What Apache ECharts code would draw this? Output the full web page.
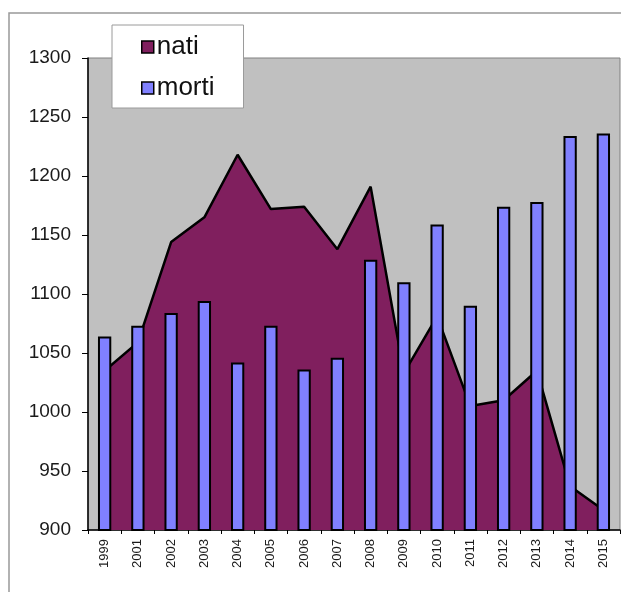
<!DOCTYPE html>
<html>
<head>
<meta charset="utf-8">
<script src="https://cdn.jsdelivr.net/npm/echarts@6/dist/echarts.min.js"></script>
<style>
html,body{margin:0;padding:0;background:#fff;}
#c{width:621px;height:592px;}
</style>
</head>
<body>
<div id="c"></div>
<script>
const categories = ['1999','2001','2002','2003','2004','2005','2006','2007','2008','2009','2010','2011','2012','2013','2014','2015'];
const nati  = [1035,1059,1144,1165,1218,1172,1174,1138,1191,1033,1081,1005,1010,1035,937,917];
const morti = [1064,1073,1084,1094,1042,1073,1036,1046,1129,1110,1159,1090,1174,1178,1234,1236];
const yTicks = {min: 900, max: 1300, interval: 50};

const FONT = '"Liberation Sans", Arial, sans-serif';
const chart = echarts.init(document.getElementById('c'), null, {renderer: 'canvas'});
chart.setOption({
  backgroundColor: '#ffffff',
  animation: false,
  graphic: [{
    type: 'rect', z: -10, silent: true,
    shape: {x: 9, y: 13, width: 800, height: 800},
    style: {fill: 'none', stroke: '#999999', lineWidth: 1.5}
  }],
  grid: {
    left: 88, right: 1, top: 58, bottom: 62,
    show: true, backgroundColor: '#c0c0c0', borderColor: '#808080', borderWidth: 1
  },
  legend: {
    orient: 'vertical',
    left: 112, top: 25,
    padding: [9, 29, 7, 29],
    backgroundColor: '#ffffff',
    borderColor: '#9a9a9a', borderWidth: 1,
    itemWidth: 12, itemHeight: 12, itemGap: 15,
    textStyle: {fontFamily: FONT, fontSize: 26, color: '#111', padding: [0, 0, 0, -2]},
    data: [
      {name: 'nati', icon: 'rect', itemStyle: {color: '#801f5e', borderColor: '#000', borderWidth: 1.5}},
      {name: 'morti', icon: 'rect', itemStyle: {color: '#8080ff', borderColor: '#000', borderWidth: 1.5}}
    ],
    z: 20
  },
  xAxis: {
    type: 'category',
    data: categories,
    boundaryGap: true,
    axisLine: {lineStyle: {color: '#000', width: 1.5}},
    axisTick: {show: true, length: 4, lineStyle: {color: '#000', width: 1}},
    axisLabel: {rotate: 90, interval: 0, margin: 9, fontFamily: FONT, fontSize: 13, color: '#1a1a1a'},
    splitLine: {show: false}
  },
  yAxis: {
    type: 'value',
    min: yTicks.min, max: yTicks.max, interval: yTicks.interval,
    axisLine: {show: true, lineStyle: {color: '#000', width: 1.5}},
    axisTick: {show: true, length: 6, lineStyle: {color: '#000', width: 1}},
    axisLabel: {margin: 17, fontFamily: FONT, fontSize: 19, color: '#1a1a1a', formatter: function (v) { return String(v); }},
    splitLine: {show: false}
  },
  series: [
    {
      name: 'nati', type: 'line', data: nati,
      showSymbol: false, symbol: 'none',
      lineStyle: {color: '#000', width: 2.5},
      itemStyle: {color: '#801f5e'},
      areaStyle: {color: '#801f5e', opacity: 1, origin: 'start'},
      z: 2
    },
    {
      name: 'morti', type: 'bar', data: morti,
      barWidth: '40%',
      itemStyle: {color: '#8080ff', borderColor: '#000', borderWidth: 2},
      z: 3
    }
  ]
});
</script>
</body>
</html>
